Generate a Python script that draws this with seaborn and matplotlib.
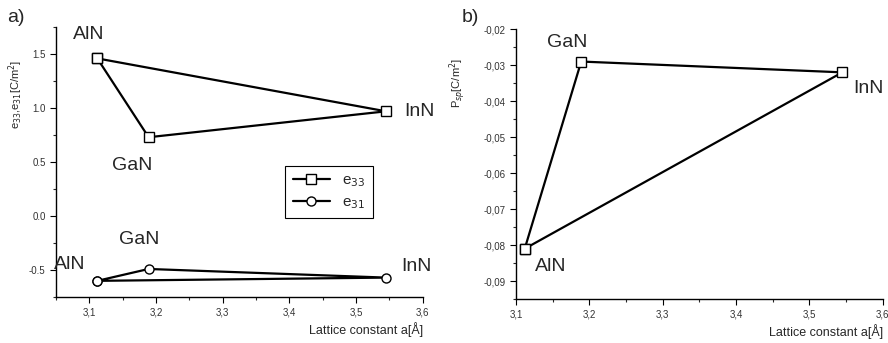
import matplotlib
matplotlib.use("Agg")
import matplotlib.pyplot as plt
from matplotlib.ticker import MultipleLocator, FuncFormatter
import pandas as pd
import seaborn as sns

# --- Data ---
materials = ["AlN", "GaN", "InN"]
lattice_a = [3.112, 3.189, 3.545]
e33 = [1.46, 0.73, 0.97]
e31 = [-0.60, -0.49, -0.57]
p_sp = [-0.081, -0.029, -0.032]

# label offsets (pixels) for each point
off_e33 = [(-9, 24), (-16, -28), (33, 0)]
off_e31 = [(-28, 16), (-9, 29), (30, 11)]
off_psp = [(26, -18), (-14, 19), (26, -16)]


def closed(x, y):
    # loop back to the first point so the three points form a triangle
    df = pd.DataFrame({"x": x, "y": y})
    return pd.concat([df, df.iloc[[0]]], ignore_index=True)


def comma(v, pos, nd):
    return f"{v:.{nd}f}".replace(".", ",")


sns.set_style("ticks")
plt.rcParams["font.family"] = ["Liberation Sans", "DejaVu Sans"]
plt.rcParams["xtick.direction"] = "out"
plt.rcParams["ytick.direction"] = "out"

fig = plt.figure(figsize=(8.88, 3.43), dpi=100)
ax1 = fig.add_axes([0.063, 0.134, 0.413, 0.787])
ax2 = fig.add_axes([0.581, 0.128, 0.413, 0.787])

mk = dict(markerfacecolor="white", markeredgecolor="black", markersize=6.5,
          markeredgewidth=1.0)
line_kw = dict(sort=False, estimator=None, color="black", lw=1.6)
lbl_size = 14

# --- Panel a ---
d33 = closed(lattice_a, e33)
d31 = closed(lattice_a, e31)
sns.lineplot(data=d33, x="x", y="y", marker="s", label=r"e$_{33}$", ax=ax1,
             **line_kw, **mk)
sns.lineplot(data=d31, x="x", y="y", marker="o", label=r"e$_{31}$", ax=ax1,
             **line_kw, **mk)

for name, xv, yv, off in zip(materials, lattice_a, e33, off_e33):
    ax1.annotate(name, (xv, yv), xytext=off, textcoords="offset pixels",
                 ha="center", va="center", fontsize=lbl_size)
for name, xv, yv, off in zip(materials, lattice_a, e31, off_e31):
    ax1.annotate(name, (xv, yv), xytext=off, textcoords="offset pixels",
                 ha="center", va="center", fontsize=lbl_size)

ax1.set_xlim(3.05, 3.6)
ax1.set_ylim(-0.75, 1.75)
ax1.xaxis.set_major_locator(MultipleLocator(0.1))
ax1.xaxis.set_minor_locator(MultipleLocator(0.05))
ax1.yaxis.set_major_locator(MultipleLocator(0.5))
ax1.yaxis.set_minor_locator(MultipleLocator(0.25))
ax1.xaxis.set_major_formatter(FuncFormatter(lambda v, p: comma(v, p, 1)))
ax1.yaxis.set_major_formatter(FuncFormatter(lambda v, p: f"{v:.1f}"))
ax1.set_xlabel("")
ax1.set_ylabel(r"e$_{33}$,e$_{31}$[C/m$^2$]", fontsize=8)
ax1.yaxis.set_label_coords(-0.085, 0.75)

leg = ax1.legend(loc="upper left", bbox_to_anchor=(0.605, 0.515), fancybox=False,
                 edgecolor="black", framealpha=1, fontsize=11, handlelength=2.4,
                 borderpad=0.5, labelspacing=0.4)
leg.get_frame().set_linewidth(0.8)

# --- Panel b ---
dp = closed(lattice_a, p_sp)
sns.lineplot(data=dp, x="x", y="y", marker="s", ax=ax2, **line_kw, **mk)
for name, xv, yv, off in zip(materials, lattice_a, p_sp, off_psp):
    ax2.annotate(name, (xv, yv), xytext=off, textcoords="offset pixels",
                 ha="center", va="center", fontsize=lbl_size)

ax2.set_xlim(3.1, 3.6)
ax2.set_ylim(-0.095, -0.02)
ax2.xaxis.set_major_locator(MultipleLocator(0.1))
ax2.xaxis.set_minor_locator(MultipleLocator(0.05))
ax2.yaxis.set_major_locator(MultipleLocator(0.01))
ax2.yaxis.set_minor_locator(MultipleLocator(0.005))
ax2.xaxis.set_major_formatter(FuncFormatter(lambda v, p: comma(v, p, 1)))
ax2.yaxis.set_major_formatter(FuncFormatter(lambda v, p: comma(v, p, 2)))
ax2.set_xlabel("")
ax2.set_ylabel(r"P$_{sp}$[C/m$^2$]", fontsize=8)
ax2.yaxis.set_label_coords(-0.13, 0.8)

for ax in (ax1, ax2):
    sns.despine(ax=ax)
    ax.tick_params(axis="both", which="major", labelsize=7, length=4,
                   width=0.8, colors="black", labelcolor="#333333")
    ax.tick_params(axis="both", which="minor", length=2.5, width=0.8)
    for s in ("left", "bottom"):
        ax.spines[s].set_linewidth(1.0)
        ax.spines[s].set_color("black")

fig.text(0.476, 0.025, "Lattice constant a[Å]", ha="right", fontsize=9)
fig.text(0.994, 0.02, "Lattice constant a[Å]", ha="right", fontsize=9)
fig.text(0.008, 0.935, "a)", fontsize=14)
fig.text(0.52, 0.935, "b)", fontsize=14)

fig.savefig("out.png", dpi=100)
